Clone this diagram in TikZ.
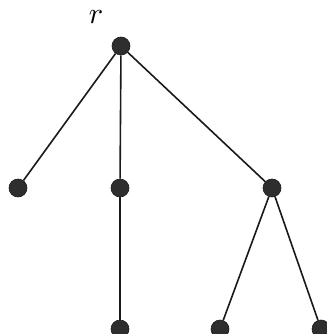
\documentclass[tikz,border=0pt]{standalone}
\begin{document}
\begin{tikzpicture}[x=1pt,y=-1pt,
  vert/.style={circle,fill=black!82,draw=black!90,line width=0.6pt,minimum size=18pt,inner sep=0pt},
  edge/.style={line width=1.6pt,black!90}]
\useasboundingbox (0,0) rectangle (326,334);
\node[vert] (r) at (121,46) {};
\node[vert] (a) at (18,188) {};
\node[vert] (b) at (120,188) {};
\node[vert] (c) at (272,188) {};
\node[vert] (d) at (120,329) {};
\node[vert] (e) at (220,329) {};
\node[vert] (f) at (321,329) {};
\node[inner sep=0pt] (lbl) at (96,17) {\scalebox{3}{$r$}};
\draw[edge] (r) -- (a);
\draw[edge] (r) -- (b);
\draw[edge] (r) -- (c);
\draw[edge] (b) -- (d);
\draw[edge] (c) -- (e);
\draw[edge] (c) -- (f);
\end{tikzpicture}
\end{document}
